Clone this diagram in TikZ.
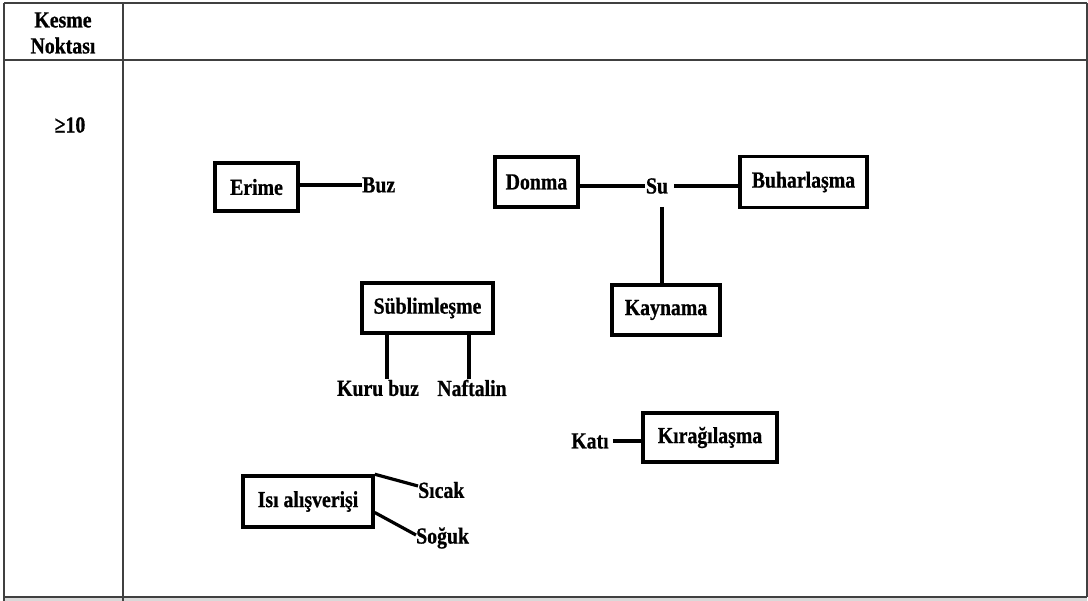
\documentclass[tikz,border=0pt]{standalone}
\usepackage{fontspec}
\setmainfont{Liberation Serif}[FakeStretch=0.86, BoldFeatures={FakeBold=0.8}]
\begin{document}
\begin{tikzpicture}[x=1pt,y=-1pt,
  every node/.style={font=\fontsize{23}{26}\selectfont\bfseries},
  lbl/.style={inner sep=0pt},
  box/.style={draw, line width=3.5pt, inner sep=0pt},
  conn/.style={line width=3.2pt},
  grid/.style={draw=black!75, line width=1.5pt}]
\useasboundingbox (0,0) rectangle (1088,601);
% table
\fill[black!15] (4,598) rectangle (1087,601);
\draw[grid] (4,3) -- (1087,3);
\draw[grid] (4,60) -- (1087,60);
\draw[grid] (4,597) -- (1087,597);
\draw[grid] (4,3) -- (4,601);
\draw[grid] (123,3) -- (123,601);
\draw[grid] (1087,3) -- (1087,597);
\node[lbl, align=center] (hdr) at (63,33) {Kesme\\Noktası};
\node[lbl] (ten) at (70,125) {≥10};
% Erime
\node[box, minimum width=83pt, minimum height=48pt] (erime) at (256.5,187) {Erime};
\node[lbl, anchor=west] (buz) at (362,185) {Buz};
\draw[conn] (erime.east |- buz.west) -- (buz.west);
% Su
\node[box, minimum width=83pt, minimum height=50pt] (donma) at (536.5,182) {Donma};
\node[lbl] (su) at (657,186) {Su};
\node[box, minimum width=127pt, minimum height=51pt] (buhar) at (803.5,182) {Buharlaşma};
\node[box, minimum width=108pt, minimum height=50pt] (kaynama) at (666,310) {Kaynama};
\draw[conn] (donma.east |- su.west) -- ([xshift=-1pt]su.west);
\draw[conn] ([xshift=6pt]su.east) -- (buhar.west |- su.east);
\draw[conn] ([yshift=-13pt,xshift=5pt]su.south) -- ([xshift=5pt]su.south |- kaynama.north);
% Sublimlesme
\node[box, minimum width=131pt, minimum height=50pt] (sub) at (427.5,308) {Süblimleşme};
\node[lbl] (kuru) at (378,388) {Kuru buz};
\node[lbl] (naft) at (472,388) {Naftalin};
\draw[conn] ([xshift=-40.5pt]sub.south) -- ([xshift=-40.5pt,yshift=-44pt]sub.south);
\draw[conn] ([xshift=41.5pt]sub.south) -- ([xshift=41.5pt,yshift=-44pt]sub.south);
% Kiragilasma
\node[lbl] (kati) at (590,441) {Katı};
\node[box, minimum width=134pt, minimum height=49pt] (kira) at (710,437.5) {Kırağılaşma};
\draw[conn] ([xshift=4pt]kati.east) -- (kira.west |- kati.east);
% Isi alisverisi
\node[box, minimum width=130pt, minimum height=51pt] (isi) at (308,501.5) {Isı alışverişi};
\node[lbl, anchor=west] (sicak) at (418,490) {Sıcak};
\node[lbl, anchor=west] (soguk) at (416,538) {Soğuk};
\draw[conn] (isi.north east) -- ([yshift=4pt]sicak.west);
\draw[conn] ([yshift=-11pt]isi.east) -- ([yshift=3pt]soguk.west);
\end{tikzpicture}
\end{document}
